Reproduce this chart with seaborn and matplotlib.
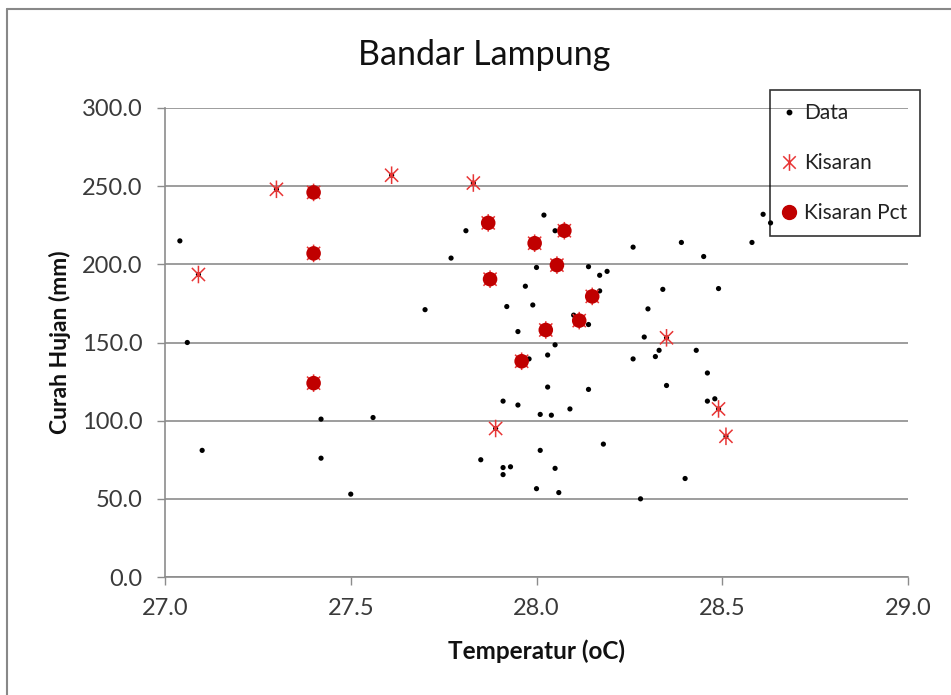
import numpy as np
import pandas as pd
import matplotlib
matplotlib.use("Agg")
import matplotlib.pyplot as plt
from matplotlib.path import Path
from matplotlib.lines import Line2D
import seaborn as sns

# ---- data ----
data_temp = [27.04, 27.06, 27.10, 27.42, 27.42, 27.56, 27.50, 27.70, 27.77, 27.81,
             28.02, 28.05, 28.26, 28.00, 28.14, 28.17, 28.19, 27.97, 28.17, 27.92,
             27.99, 28.10, 28.14, 27.95, 28.30, 28.29, 28.05, 28.03, 28.26, 27.98,
             28.03, 28.14, 27.91, 27.95, 28.01, 28.04, 28.09, 28.18, 28.01, 27.85,
             27.91, 27.93, 27.91, 28.05, 28.00, 28.06, 28.28, 28.61, 28.63, 28.39,
             28.58, 28.45, 28.34, 28.49, 28.33, 28.43, 28.32, 28.46, 28.35, 28.46,
             28.48, 28.40]
data_rain = [215, 150, 81, 101, 76, 102, 53, 171, 204, 221.5,
             231.5, 221.5, 211, 198, 198.5, 193, 195.5, 186, 183, 173,
             174, 167.5, 161.5, 157, 171.5, 153.5, 148.5, 142, 139.5, 139.5,
             121.5, 120, 112.5, 110, 104, 103.5, 107.5, 85, 81, 75,
             70, 70.5, 65.5, 69.5, 56.5, 54, 50, 232, 226.5, 214,
             214, 205, 184, 184.5, 145, 145, 141, 130.5, 122.5, 112.5,
             114, 63]

kis_temp = [27.09, 27.30, 27.61, 27.83, 28.35, 28.49, 28.51, 27.89]
kis_rain = [193.5, 248, 257, 252, 153, 107.5, 90, 95]

pct_temp = [27.40, 27.40, 27.40, 27.87, 27.995, 28.075, 28.055, 27.875, 28.15, 28.115, 28.025, 27.96]
pct_rain = [246, 207, 124, 226.5, 213.5, 221.5, 199.5, 190.5, 179.5, 164, 158, 138]

xticks = [27.0, 27.5, 28.0, 28.5, 29.0]
yticks = [0, 50, 100, 150, 200, 250, 300]

# Kisaran contains the percentile points too; Data contains all points
kis_all_t = kis_temp + pct_temp
kis_all_r = kis_rain + pct_rain
data_all_t = data_temp + kis_all_t
data_all_r = data_rain + kis_all_r

df_data = pd.DataFrame({"t": data_all_t, "r": data_all_r})
df_kis = pd.DataFrame({"t": kis_all_t, "r": kis_all_r})
df_pct = pd.DataFrame({"t": pct_temp, "r": pct_rain})

sns.set_style("white")
plt.rcParams['font.family'] = ['Lato', 'DejaVu Sans']

fig = plt.figure(figsize=(9.51, 6.95), dpi=100)
W, H = 951, 695
ax = fig.add_axes([165 / W, 1 - 577 / H, (908 - 165) / W, (577 - 108) / H])

star = Path([(0, -1), (0, 1), (-0.75, -0.75), (0.75, 0.75), (-0.75, 0.75), (0.75, -0.75)],
            [Path.MOVETO, Path.LINETO, Path.MOVETO, Path.LINETO, Path.MOVETO, Path.LINETO])

STAR_C = "#e83535"
sns.scatterplot(data=df_data, x="t", y="r", ax=ax, color="black", s=14,
                edgecolor="none", linewidth=0, zorder=3)
sns.scatterplot(data=df_kis, x="t", y="r", ax=ax, marker=star, s=160,
                facecolor="none", edgecolor=STAR_C, linewidth=1.1, zorder=4)
sns.scatterplot(data=df_pct, x="t", y="r", ax=ax, color="#c00000", s=110,
                edgecolor="none", linewidth=0, zorder=5)

ax.set_xlim(27.0, 29.0)
ax.set_ylim(0, 300)
ax.set_xticks(xticks)
ax.set_yticks(yticks)
ax.set_xticklabels([f"{v:.1f}" for v in xticks])
ax.set_yticklabels([f"{v:.1f}" for v in yticks])
ax.tick_params(axis="both", which="major", direction="out", length=6, width=1,
               color="#8c8c8c", labelsize=17, labelcolor="#3a3a3a",
               left=True, bottom=True)
ax.tick_params(axis="y", pad=10)
ax.tick_params(axis="x", pad=9)
ax.yaxis.grid(True, color="#8c8c8c", linewidth=1.2)
ax.xaxis.grid(False)
ax.set_axisbelow(True)
for s in ["top", "right"]:
    ax.spines[s].set_visible(False)
for s in ["left", "bottom"]:
    ax.spines[s].set_color("#8c8c8c")
    ax.spines[s].set_linewidth(1.2)

ax.set_xlabel("Temperatur (oC)", fontsize=17.5, fontweight="bold", va="center",
              color="#111111")
ax.set_ylabel("Curah Hujan (mm)", fontsize=16.5, fontweight="bold", va="center",
              color="#111111")
ax.xaxis.set_label_coords(0.5, -(651 - 577) / 469)
ax.yaxis.set_label_coords((60 - 165) / 743, 0.5)
fig.text(484 / W, 1 - 55 / H, "Bandar Lampung", fontsize=24.5, ha="center", va="center",
         color="#111111")

handles = [
    Line2D([], [], linestyle="none", marker="o", color="black", markersize=3.2),
    Line2D([], [], linestyle="none", marker=star, markerfacecolor="none",
           markeredgecolor=STAR_C, markeredgewidth=1.1, markersize=12),
    Line2D([], [], linestyle="none", marker="o", color="#c00000", markersize=10),
]
leg = ax.legend(handles, ["Data", "Kisaran", "Kisaran Pct"], loc="upper left",
                bbox_to_anchor=(770 / W, 1 - 90 / H), bbox_transform=fig.transFigure,
                frameon=True, fancybox=False, edgecolor="black",
                fontsize=15, labelspacing=1.45, handletextpad=0.43, handlelength=0.58,
                borderpad=0.62, borderaxespad=0)
leg.get_frame().set_facecolor("none")
leg.get_frame().set_edgecolor("black")
leg.get_frame().set_linewidth(1.2)
for t in leg.get_texts():
    t.set_color("#222222")

# outer chart border (top and left visible)
fig.add_artist(Line2D([7 / W, 1], [1 - 9 / H, 1 - 9 / H], transform=fig.transFigure,
                      color="#888888", linewidth=1.5))
fig.add_artist(Line2D([7 / W, 7 / W], [0, 1 - 9 / H], transform=fig.transFigure,
                      color="#888888", linewidth=1.5))

fig.savefig("out.png", dpi=100)
